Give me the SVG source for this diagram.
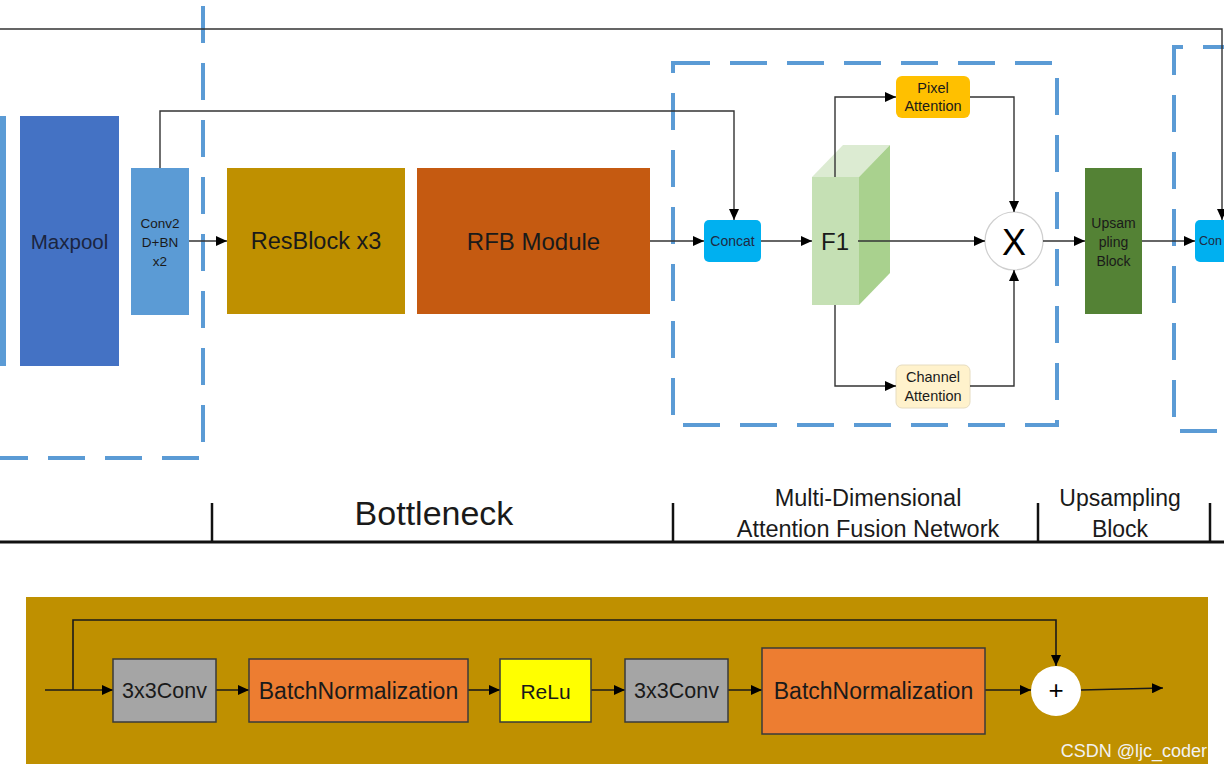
<svg xmlns="http://www.w3.org/2000/svg" width="1224" height="777" viewBox="0 0 1224 777">
<defs>
<marker id="arr" markerUnits="userSpaceOnUse" markerWidth="11" markerHeight="10" refX="11" refY="5" orient="auto">
<path d="M0,0 L11,5 L0,10 z" fill="#000"/>
</marker>
<style>
.t{font-family:"Liberation Sans",Arial,sans-serif;fill:#1a1a1a;text-anchor:middle;dominant-baseline:central}
.dash{fill:none;stroke:#5B9BD5;stroke-width:4;stroke-dasharray:37 20}
.la{fill:none;stroke:#333;stroke-width:1.4;marker-end:url(#arr)}
.ba{fill:none;stroke:#1a1a1a;stroke-width:1.6;marker-end:url(#arr)}
.box{stroke:#3a3a3a;stroke-width:1.5}
</style>
</defs>
<rect width="1224" height="777" fill="#fff"/>

<g id="dashed-frames">
<path class="dash" d="M203,6 L203,458 L0,458"/>
<rect class="dash" x="673" y="63" width="384" height="362"/>
<path class="dash" d="M1240,47 L1174,47 L1174,431 L1240,431"/>
</g>

<g id="strip"><rect x="0" y="116" width="6" height="250" fill="#5B9BD5"/></g>
<g id="maxpool"><rect x="20" y="116" width="99" height="250" fill="#4472C4"/><text class="t" x="69.5" y="241" font-size="20.5" style="fill:#1b2540">Maxpool</text></g>
<g id="conv2d"><rect x="131" y="168" width="58" height="147" fill="#5B9BD5"/>
<text class="t" x="160" y="223" font-size="13.5">Conv2</text><text class="t" x="160" y="242" font-size="13.5">D+BN</text><text class="t" x="160" y="261" font-size="13.5">x2</text></g>
<g id="resblock"><rect x="227" y="168" width="178" height="146" fill="#BF9000"/><text class="t" x="316" y="241" font-size="23.5">ResBlock x3</text></g>
<g id="rfb"><rect x="417" y="168" width="233" height="146" fill="#C55A11"/><text class="t" x="533.5" y="241" font-size="24">RFB Module</text></g>
<g id="concat1"><rect x="704" y="220" width="57" height="42" rx="5" fill="#00B0F0"/><text class="t" x="732.5" y="241" font-size="14" style="fill:#1f2a44">Concat</text></g>
<g id="f1">
<polygon points="812,177 859,177 890,145 843,145" fill="#DCEBD2"/>
<polygon points="859,177 890,145 890,273 859,305" fill="#A9D18E"/>
<rect x="812" y="177" width="47" height="128" fill="#C5E0B4"/>
<text class="t" x="835" y="241" font-size="24">F1</text>
</g>
<g id="pixel-att"><rect x="896" y="76" width="74" height="42" rx="6" fill="#FFC000"/><text class="t" x="933" y="88" font-size="14.5">Pixel</text><text class="t" x="933" y="106" font-size="14.5">Attention</text></g>
<g id="channel-att"><rect x="896" y="365" width="74" height="43" rx="6" fill="#FFF2CC" stroke="#e6dcc0" stroke-width="1"/><text class="t" x="933" y="377" font-size="14.5">Channel</text><text class="t" x="933" y="396" font-size="14.5">Attention</text></g>
<g id="multiply"><circle cx="1014" cy="241" r="29" fill="#fff" stroke="#cfcfcf" stroke-width="1.2"/><text class="t" x="1014" y="242" font-size="36" style="fill:#000">X</text></g>
<g id="upsampling"><rect x="1085" y="168" width="57" height="146" fill="#548235"/>
<text class="t" x="1113.5" y="223" font-size="14">Upsam</text><text class="t" x="1113.5" y="242" font-size="14">pling</text><text class="t" x="1113.5" y="261" font-size="14">Block</text></g>
<g id="concat2"><rect x="1195" y="220" width="40" height="42" rx="5" fill="#00B0F0"/><text class="t" x="1199" y="241" font-size="12.5" style="fill:#1f2a44;text-anchor:start">Con</text></g>

<g id="connectors">
<path class="la" d="M0,29 L1222,29 L1222,220"/>
<path class="la" d="M160,168 L160,111 L734,111 L734,220"/>
<path class="la" d="M189,241 L227,241"/>
<path class="la" d="M650,241 L704,241"/>
<path class="la" d="M761,241 L812,241"/>
<path class="la" d="M858,241 L985,241"/>
<path class="la" d="M835,177 L835,97 L896,97"/>
<path class="la" d="M835,305 L835,386 L896,386"/>
<path class="la" d="M970,97 L1014,97 L1014,212"/>
<path class="la" d="M970,386 L1014,386 L1014,270"/>
<path class="la" d="M1043,241 L1085,241"/>
<path class="la" d="M1142,241 L1195,241"/>
</g>

<g id="axis">
<line x1="0" y1="542" x2="1224" y2="542" stroke="#111" stroke-width="3"/>
<line x1="212" y1="503" x2="212" y2="542" stroke="#111" stroke-width="2.5"/>
<line x1="673" y1="503" x2="673" y2="542" stroke="#111" stroke-width="2.5"/>
<line x1="1038" y1="503" x2="1038" y2="542" stroke="#111" stroke-width="2.5"/>
<line x1="1210" y1="503" x2="1210" y2="542" stroke="#111" stroke-width="2.5"/>
<text class="t" x="434" y="513" font-size="34">Bottleneck</text>
<text class="t" x="868" y="498" font-size="23.5">Multi-Dimensional</text>
<text class="t" x="868" y="529" font-size="23.5">Attention Fusion Network</text>
<text class="t" x="1120" y="498" font-size="23">Upsampling</text>
<text class="t" x="1120" y="529" font-size="23">Block</text>
</g>

<g id="resblock-detail">
<rect x="26" y="597" width="1182" height="167" fill="#BF9000"/>
<g id="res-connectors">
<path class="ba" d="M45,690 L113,690"/>
<path class="ba" d="M73,690 L73,620 L1056,620 L1056,666"/>
<path class="ba" d="M216,690 L249,690"/>
<path class="ba" d="M468,690 L500,690"/>
<path class="ba" d="M591,690 L625,690"/>
<path class="ba" d="M728,690 L762,690"/>
<path class="ba" d="M985,690 L1031,690"/>
<path class="ba" d="M1081,690 L1163,688"/>
</g>
<g id="conv-a"><rect class="box" x="113" y="659" width="103" height="63" fill="#A5A5A5"/><text class="t" x="164.5" y="691" font-size="21.5">3x3Conv</text></g>
<g id="bn-a"><rect class="box" x="249" y="659" width="219" height="63" fill="#ED7D31"/><text class="t" x="358.5" y="691" font-size="23">BatchNormalization</text></g>
<g id="relu"><rect class="box" x="500" y="659" width="91" height="63" fill="#FFFF00"/><text class="t" x="545.5" y="691" font-size="21">ReLu</text></g>
<g id="conv-b"><rect class="box" x="625" y="659" width="103" height="63" fill="#A5A5A5"/><text class="t" x="676.5" y="691" font-size="21.5">3x3Conv</text></g>
<g id="bn-b"><rect class="box" x="762" y="648" width="223" height="86" fill="#ED7D31"/><text class="t" x="873.5" y="691" font-size="23">BatchNormalization</text></g>
<g id="plus"><ellipse cx="1056" cy="691" rx="25" ry="25" fill="#fff"/><text class="t" x="1056" y="690" font-size="26" style="fill:#000">+</text></g>
<text x="1207" y="757" font-family="Liberation Sans, Arial, sans-serif" font-size="18" fill="#f2f2f2" text-anchor="end">CSDN @ljc_coder</text>
</g>
</svg>
